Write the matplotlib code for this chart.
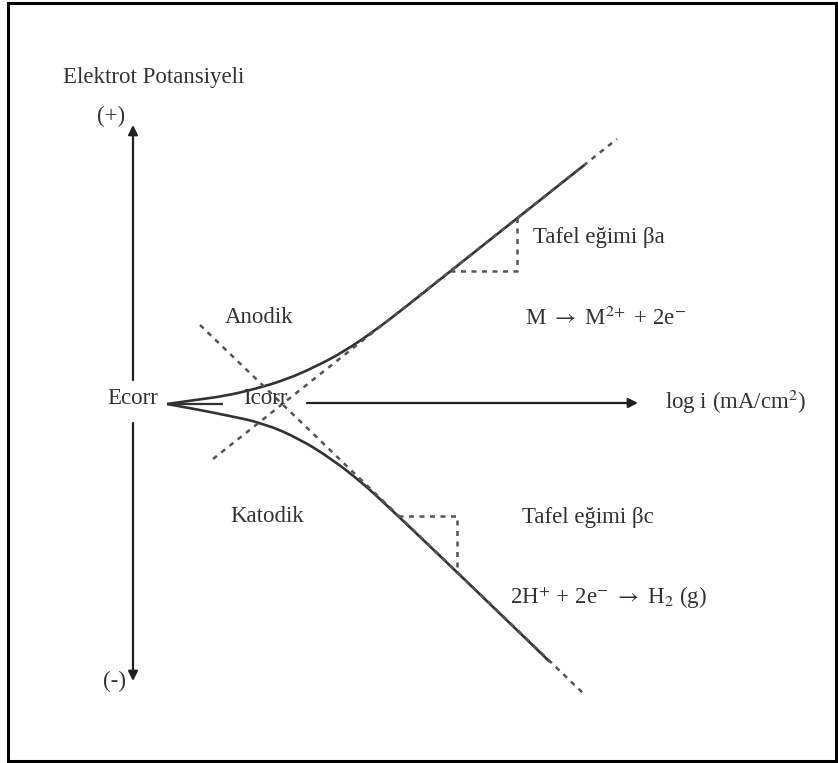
import matplotlib
matplotlib.use("Agg")
import matplotlib.pyplot as plt
from matplotlib.patches import Rectangle, PathPatch
from matplotlib.path import Path

# --- Polarisation (Tafel) diagram data: x = log i, y = electrode potential (E - Ecorr)
anodic_logi = [0.00, 0.56, 1.16, 1.76, 2.36, 2.96, 3.56, 4.16, 4.76, 5.66, 6.96, 8.36]
anodic_E = [0.00, 0.08, 0.16, 0.30, 0.48, 0.74, 1.06, 1.47, 1.93, 2.65, 3.68, 4.79]

cathodic_logi = [0.00, 0.56, 1.16, 1.92, 2.66, 3.32, 3.86, 4.26, 4.62, 5.80, 7.66]
cathodic_E = [0.00, -0.10, -0.22, -0.38, -0.70, -1.12, -1.54, -1.90, -2.24, -3.36, -5.16]

# Tafel extrapolations (straight dashed lines crossing at Icorr)
anodic_tafel_logi = [0.92, 9.00]
anodic_tafel_E = [-1.10, 5.30]
cathodic_tafel_logi = [0.66, 8.36]
cathodic_tafel_E = [1.58, -5.82]

# Slope triangles
anodic_tri_logi = [5.66, 7.00, 7.00]
anodic_tri_E = [2.66, 2.66, 3.72]
cathodic_tri_logi = [4.62, 5.80, 5.80]
cathodic_tri_E = [-2.24, -2.24, -3.36]

# Axes of the diagram
ecorr_logi = 0.0
e_axis_logi = -0.68
e_axis_top, e_axis_bottom = 5.58, -5.54
e_axis_gap = (0.48, -0.38)
i_axis_end = 9.42
i_axis_gap = (1.12, 2.80)

W, H = 838, 763
fig = plt.figure(figsize=(W / 100, H / 100), dpi=100)
ax = fig.add_axes([0, 0, 1, 1])
ax.set_xlim(-167 / 50, (W - 167) / 50)
ax.set_ylim((404 - H) / 50, 404 / 50)
ax.axis("off")

plt.rcParams["mathtext.fontset"] = "stix"
serif = ["Liberation Serif", "DejaVu Serif"]
tcol = "#333333"
lcol = "#333333"
dcol = "#555555"
fs = 16.5

# outer frame
fig.patches.append(Rectangle((8 / W, 2 / H), 828 / W, 758 / H, transform=fig.transFigure,
                             fill=False, edgecolor="black", linewidth=2.2))

arrow = dict(arrowstyle="-|>", color="#202020", lw=1.6, mutation_scale=14,
             shrinkA=0, shrinkB=0)

# potential axis (broken around the Ecorr label)
ax.annotate("", xy=(e_axis_logi, e_axis_top), xytext=(e_axis_logi, e_axis_gap[0]),
            arrowprops=arrow)
ax.annotate("", xy=(e_axis_logi, e_axis_bottom), xytext=(e_axis_logi, e_axis_gap[1]),
            arrowprops=arrow)

# current axis (broken around the Icorr label)
ax.plot([ecorr_logi, i_axis_gap[0]], [0, 0], color=lcol, lw=1.6, solid_capstyle="butt")
ax.annotate("", xy=(i_axis_end, 0.02), xytext=(i_axis_gap[1], 0.02), arrowprops=arrow)

# Tafel extrapolation lines
dash = dict(color=dcol, lw=1.8, linestyle=(0, (2.0, 2.2)))
ax.plot(anodic_tafel_logi, anodic_tafel_E, **dash)
ax.plot(cathodic_tafel_logi, cathodic_tafel_E, **dash)
ax.plot(anodic_tri_logi, anodic_tri_E, **dash)
ax.plot(cathodic_tri_logi, cathodic_tri_E, **dash)


def smooth_curve(xs, ys, **kw):
    """Quadratic B-spline path using the points as control points."""
    pts = list(zip(xs, ys))
    verts = [pts[0]]
    codes = [Path.MOVETO]
    for i in range(1, len(pts) - 1):
        mid = ((pts[i][0] + pts[i + 1][0]) / 2, (pts[i][1] + pts[i + 1][1]) / 2)
        if i == len(pts) - 2:
            mid = pts[-1]
        verts += [pts[i], mid]
        codes += [Path.CURVE3, Path.CURVE3]
    ax.add_patch(PathPatch(Path(verts, codes), fill=False, **kw))


# polarisation curves
smooth_curve(anodic_logi, anodic_E, edgecolor=lcol, lw=1.9, capstyle="butt")
smooth_curve(cathodic_logi, cathodic_E, edgecolor=lcol, lw=1.9, capstyle="butt")


def label(x, y, s, ha="left"):
    ax.text(x, y, s, ha=ha, va="center", fontsize=fs, family=serif, color=tcol)


label(-2.08, 6.54, "Elektrot Potansiyeli")
label(-1.12, 5.76, "(+)", ha="center")
label(-1.06, -5.54, "(-)", ha="center")
label(-0.68, 0.12, "Ecorr", ha="center")
label(1.96, 0.12, "Icorr", ha="center")
label(1.84, 1.74, "Anodik", ha="center")
label(2.00, -2.26, "Katodik", ha="center")
label(7.32, 3.32, "Tafel eğimi βa")
label(7.16, 1.72, r"M $\rightarrow$ M$^{2\!+}$ + 2e$^{-}$")
label(9.96, 0.04, r"log i (mA/cm$^{2}$)")
label(7.10, -2.28, "Tafel eğimi βc")
label(6.86, -3.88, r"2H$^{+}$ + 2e$^{-}$ $\rightarrow$ H$_{2}$ (g)")

fig.savefig("out.png", dpi=100, facecolor="white")
